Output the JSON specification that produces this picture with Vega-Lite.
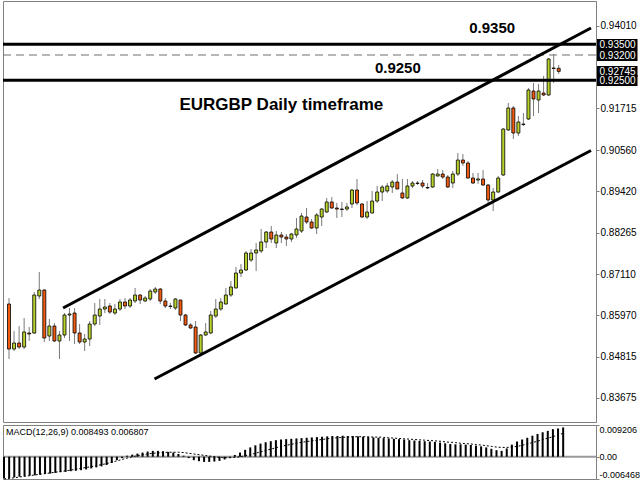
{
  "$schema": "https://vega.github.io/schema/vega-lite/v6.json",
  "background": "white",
  "padding": {"left": 1, "top": 0, "right": 0, "bottom": 2},
  "config": {"view": {"stroke": "#808080"}, "font": "Liberation Sans"},
  "spacing": 1,
  "datasets": {
    "candles": [
      {"i":0,"o":0.86283,"h":0.86450,"l":0.84756,"c":0.85033},
      {"i":1,"o":0.85033,"h":0.85533,"l":0.84978,"c":0.85200},
      {"i":2,"o":0.85200,"h":0.85672,"l":0.85033,"c":0.85089},
      {"i":3,"o":0.85089,"h":0.85894,"l":0.85033,"c":0.85506},
      {"i":4,"o":0.85478,"h":0.85644,"l":0.85256,"c":0.85450},
      {"i":5,"o":0.85478,"h":0.86617,"l":0.85450,"c":0.86533},
      {"i":6,"o":0.86506,"h":0.87172,"l":0.86422,"c":0.86672},
      {"i":7,"o":0.86672,"h":0.86700,"l":0.85228,"c":0.85339},
      {"i":8,"o":0.85394,"h":0.85867,"l":0.85256,"c":0.85672},
      {"i":9,"o":0.85672,"h":0.85756,"l":0.85228,"c":0.85256},
      {"i":10,"o":0.85256,"h":0.85533,"l":0.84756,"c":0.85422},
      {"i":11,"o":0.85422,"h":0.86033,"l":0.85339,"c":0.85978},
      {"i":12,"o":0.85978,"h":0.86172,"l":0.85256,"c":0.86006},
      {"i":13,"o":0.86033,"h":0.86172,"l":0.85172,"c":0.85478},
      {"i":14,"o":0.85478,"h":0.85728,"l":0.85172,"c":0.85228},
      {"i":15,"o":0.85228,"h":0.85450,"l":0.84978,"c":0.85311},
      {"i":16,"o":0.85311,"h":0.85811,"l":0.85117,"c":0.85728},
      {"i":17,"o":0.85728,"h":0.86311,"l":0.85672,"c":0.85978},
      {"i":18,"o":0.85950,"h":0.86422,"l":0.85700,"c":0.86144},
      {"i":19,"o":0.86144,"h":0.86422,"l":0.86033,"c":0.86200},
      {"i":20,"o":0.86228,"h":0.86311,"l":0.86006,"c":0.86061},
      {"i":21,"o":0.86033,"h":0.86283,"l":0.85978,"c":0.86144},
      {"i":22,"o":0.86144,"h":0.86422,"l":0.86089,"c":0.86339},
      {"i":23,"o":0.86339,"h":0.86450,"l":0.86144,"c":0.86228},
      {"i":24,"o":0.86228,"h":0.86450,"l":0.86172,"c":0.86394},
      {"i":25,"o":0.86367,"h":0.86728,"l":0.86311,"c":0.86533},
      {"i":26,"o":0.86533,"h":0.86561,"l":0.86283,"c":0.86394},
      {"i":27,"o":0.86367,"h":0.86506,"l":0.86339,"c":0.86450},
      {"i":28,"o":0.86422,"h":0.86700,"l":0.86367,"c":0.86644},
      {"i":29,"o":0.86617,"h":0.86756,"l":0.86561,"c":0.86700},
      {"i":30,"o":0.86700,"h":0.86728,"l":0.86283,"c":0.86367},
      {"i":31,"o":0.86367,"h":0.86450,"l":0.86172,"c":0.86228},
      {"i":32,"o":0.86228,"h":0.86311,"l":0.86144,"c":0.86214},
      {"i":33,"o":0.86172,"h":0.86450,"l":0.86117,"c":0.86422},
      {"i":34,"o":0.86394,"h":0.86400,"l":0.85811,"c":0.85978},
      {"i":35,"o":0.85978,"h":0.86006,"l":0.85672,"c":0.85700},
      {"i":36,"o":0.85700,"h":0.85756,"l":0.85589,"c":0.85617},
      {"i":37,"o":0.85644,"h":0.85811,"l":0.84894,"c":0.84922},
      {"i":38,"o":0.84922,"h":0.85450,"l":0.84867,"c":0.85422},
      {"i":39,"o":0.85422,"h":0.85756,"l":0.85394,"c":0.85506},
      {"i":40,"o":0.85478,"h":0.86089,"l":0.85450,"c":0.85978},
      {"i":41,"o":0.85950,"h":0.86422,"l":0.85894,"c":0.86144},
      {"i":42,"o":0.86144,"h":0.86450,"l":0.86089,"c":0.86339},
      {"i":43,"o":0.86283,"h":0.86728,"l":0.86270,"c":0.86533},
      {"i":44,"o":0.86533,"h":0.86922,"l":0.86478,"c":0.86756},
      {"i":45,"o":0.86728,"h":0.87311,"l":0.86720,"c":0.87144},
      {"i":46,"o":0.87144,"h":0.87394,"l":0.87033,"c":0.87228},
      {"i":47,"o":0.87228,"h":0.87756,"l":0.87200,"c":0.87700},
      {"i":48,"o":0.87506,"h":0.87811,"l":0.87450,"c":0.87700},
      {"i":49,"o":0.87700,"h":0.87978,"l":0.87200,"c":0.87783},
      {"i":50,"o":0.87756,"h":0.88367,"l":0.87700,"c":0.88006},
      {"i":51,"o":0.88006,"h":0.88311,"l":0.87839,"c":0.88283},
      {"i":52,"o":0.88283,"h":0.88450,"l":0.87978,"c":0.88089},
      {"i":53,"o":0.87978,"h":0.88311,"l":0.87839,"c":0.88200},
      {"i":54,"o":0.88200,"h":0.88283,"l":0.87978,"c":0.88144},
      {"i":55,"o":0.88144,"h":0.88228,"l":0.87894,"c":0.88089},
      {"i":56,"o":0.88089,"h":0.88256,"l":0.88006,"c":0.88228},
      {"i":57,"o":0.88200,"h":0.88672,"l":0.88117,"c":0.88367},
      {"i":58,"o":0.88311,"h":0.88811,"l":0.88256,"c":0.88728},
      {"i":59,"o":0.88700,"h":0.88950,"l":0.88506,"c":0.88561},
      {"i":60,"o":0.88561,"h":0.88644,"l":0.88367,"c":0.88394},
      {"i":61,"o":0.88394,"h":0.88811,"l":0.88228,"c":0.88756},
      {"i":62,"o":0.88700,"h":0.88950,"l":0.88450,"c":0.88922},
      {"i":63,"o":0.88839,"h":0.89228,"l":0.88811,"c":0.89117},
      {"i":64,"o":0.89117,"h":0.89256,"l":0.88922,"c":0.88950},
      {"i":65,"o":0.88950,"h":0.89089,"l":0.88672,"c":0.88922},
      {"i":66,"o":0.88922,"h":0.89117,"l":0.88700,"c":0.88908},
      {"i":67,"o":0.88922,"h":0.89089,"l":0.88867,"c":0.88978},
      {"i":68,"o":0.89061,"h":0.89478,"l":0.88950,"c":0.89450},
      {"i":69,"o":0.89450,"h":0.89756,"l":0.89033,"c":0.89089},
      {"i":70,"o":0.89061,"h":0.89089,"l":0.88672,"c":0.88700},
      {"i":71,"o":0.88700,"h":0.89144,"l":0.88644,"c":0.88839},
      {"i":72,"o":0.88811,"h":0.89422,"l":0.88800,"c":0.89144},
      {"i":73,"o":0.89144,"h":0.89561,"l":0.89089,"c":0.89394},
      {"i":74,"o":0.89394,"h":0.89589,"l":0.89144,"c":0.89533},
      {"i":75,"o":0.89422,"h":0.89644,"l":0.89367,"c":0.89561},
      {"i":76,"o":0.89533,"h":0.89728,"l":0.89367,"c":0.89672},
      {"i":77,"o":0.89672,"h":0.89894,"l":0.89470,"c":0.89478},
      {"i":78,"o":0.89367,"h":0.89756,"l":0.89200,"c":0.89228},
      {"i":79,"o":0.89228,"h":0.89756,"l":0.89200,"c":0.89561},
      {"i":80,"o":0.89561,"h":0.89700,"l":0.89506,"c":0.89644},
      {"i":81,"o":0.89644,"h":0.89700,"l":0.89589,"c":0.89631},
      {"i":82,"o":0.89644,"h":0.89728,"l":0.89506,"c":0.89561},
      {"i":83,"o":0.89506,"h":0.89644,"l":0.89478,"c":0.89519},
      {"i":84,"o":0.89533,"h":0.89922,"l":0.89506,"c":0.89894},
      {"i":85,"o":0.89839,"h":0.90033,"l":0.89830,"c":0.89894},
      {"i":86,"o":0.89894,"h":0.90006,"l":0.89756,"c":0.89811},
      {"i":87,"o":0.89811,"h":0.89867,"l":0.89506,"c":0.89533},
      {"i":88,"o":0.89644,"h":0.89978,"l":0.89506,"c":0.89894},
      {"i":89,"o":0.89894,"h":0.90478,"l":0.89839,"c":0.90283},
      {"i":90,"o":0.90283,"h":0.90450,"l":0.90117,"c":0.90200},
      {"i":91,"o":0.90200,"h":0.90256,"l":0.89770,"c":0.89783},
      {"i":92,"o":0.89783,"h":0.89922,"l":0.89617,"c":0.89644},
      {"i":93,"o":0.89728,"h":0.89922,"l":0.89617,"c":0.89756},
      {"i":94,"o":0.89756,"h":0.90006,"l":0.89561,"c":0.89589},
      {"i":95,"o":0.89589,"h":0.89617,"l":0.89089,"c":0.89172},
      {"i":96,"o":0.89172,"h":0.89506,"l":0.88867,"c":0.89394},
      {"i":97,"o":0.89394,"h":0.89839,"l":0.89367,"c":0.89783},
      {"i":98,"o":0.89867,"h":0.91172,"l":0.89839,"c":0.91144},
      {"i":99,"o":0.91117,"h":0.91867,"l":0.91089,"c":0.91728},
      {"i":100,"o":0.91728,"h":0.91783,"l":0.90867,"c":0.91033},
      {"i":101,"o":0.91033,"h":0.91506,"l":0.90950,"c":0.91339},
      {"i":102,"o":0.91283,"h":0.91589,"l":0.91228,"c":0.91269},
      {"i":103,"o":0.91422,"h":0.92283,"l":0.91394,"c":0.92228},
      {"i":104,"o":0.92200,"h":0.92422,"l":0.91506,"c":0.91978},
      {"i":105,"o":0.91950,"h":0.92394,"l":0.91589,"c":0.92200},
      {"i":106,"o":0.92144,"h":0.92617,"l":0.92061,"c":0.92089},
      {"i":107,"o":0.92089,"h":0.93117,"l":0.92061,"c":0.93089},
      {"i":108,"o":0.92839,"h":0.93228,"l":0.92422,"c":0.92825},
      {"i":109,"o":0.92830,"h":0.92922,"l":0.92672,"c":0.92745}
    ],
    "macd": [
      {"i":0,"hist":-0.0062,"sig":-0.0064},{"i":1,"hist":-0.0062,"sig":-0.0063},{"i":2,"hist":-0.0060,"sig":-0.0061},{"i":3,"hist":-0.0058,"sig":-0.0059},
      {"i":4,"hist":-0.0057,"sig":-0.0057},{"i":5,"hist":-0.0055,"sig":-0.0055},{"i":6,"hist":-0.0054,"sig":-0.0053},{"i":7,"hist":-0.0052,"sig":-0.0051},
      {"i":8,"hist":-0.0050,"sig":-0.0049},{"i":9,"hist":-0.0049,"sig":-0.0047},{"i":10,"hist":-0.0047,"sig":-0.0045},{"i":11,"hist":-0.0045,"sig":-0.0043},
      {"i":12,"hist":-0.0044,"sig":-0.0041},{"i":13,"hist":-0.0042,"sig":-0.0039},{"i":14,"hist":-0.0041,"sig":-0.0036},{"i":15,"hist":-0.0039,"sig":-0.0034},
      {"i":16,"hist":-0.0037,"sig":-0.0031},{"i":17,"hist":-0.0034,"sig":-0.0029},{"i":18,"hist":-0.0031,"sig":-0.0026},{"i":19,"hist":-0.0028,"sig":-0.0023},
      {"i":20,"hist":-0.0024,"sig":-0.0020},{"i":21,"hist":-0.0018,"sig":-0.0016},{"i":22,"hist":-0.0010,"sig":-0.0012},{"i":23,"hist":-0.0004,"sig":-0.0008},
      {"i":24,"hist":0.0003,"sig":-0.0004},{"i":25,"hist":0.0006,"sig":0.0000},{"i":26,"hist":0.0009,"sig":0.0003},{"i":27,"hist":0.0012,"sig":0.0006},
      {"i":28,"hist":0.0015,"sig":0.0008},{"i":29,"hist":0.0017,"sig":0.0010},{"i":30,"hist":0.0017,"sig":0.0011},{"i":31,"hist":0.0016,"sig":0.0012},
      {"i":32,"hist":0.0014,"sig":0.0013},{"i":33,"hist":0.0012,"sig":0.0013},{"i":34,"hist":0.0008,"sig":0.0013},{"i":35,"hist":0.0003,"sig":0.0012},
      {"i":36,"hist":-0.0004,"sig":0.0010},{"i":37,"hist":-0.0010,"sig":0.0008},{"i":38,"hist":-0.0013,"sig":0.0006},{"i":39,"hist":-0.0015,"sig":0.0004},
      {"i":40,"hist":-0.0015,"sig":0.0002},{"i":41,"hist":-0.0014,"sig":0.0000},{"i":42,"hist":-0.0012,"sig":-0.0002},{"i":43,"hist":-0.0008,"sig":-0.0003},
      {"i":44,"hist":-0.0003,"sig":-0.0003},{"i":45,"hist":0.0005,"sig":-0.0002},{"i":46,"hist":0.0012,"sig":0.0000},{"i":47,"hist":0.0020,"sig":0.0003},
      {"i":48,"hist":0.0027,"sig":0.0006},{"i":49,"hist":0.0033,"sig":0.0010},{"i":50,"hist":0.0038,"sig":0.0014},{"i":51,"hist":0.0042,"sig":0.0018},
      {"i":52,"hist":0.0045,"sig":0.0022},{"i":53,"hist":0.0048,"sig":0.0026},{"i":54,"hist":0.0050,"sig":0.0030},{"i":55,"hist":0.0051,"sig":0.0033},
      {"i":56,"hist":0.0052,"sig":0.0036},{"i":57,"hist":0.0053,"sig":0.0039},{"i":58,"hist":0.0054,"sig":0.0042},{"i":59,"hist":0.0055,"sig":0.0044},
      {"i":60,"hist":0.0056,"sig":0.0046},{"i":61,"hist":0.0057,"sig":0.0048},{"i":62,"hist":0.0058,"sig":0.0050},{"i":63,"hist":0.0059,"sig":0.0052},
      {"i":64,"hist":0.0060,"sig":0.0054},{"i":65,"hist":0.0060,"sig":0.0055},{"i":66,"hist":0.0061,"sig":0.0056},{"i":67,"hist":0.0060,"sig":0.0057},
      {"i":68,"hist":0.0060,"sig":0.0058},{"i":69,"hist":0.0059,"sig":0.0058},{"i":70,"hist":0.0058,"sig":0.0058},{"i":71,"hist":0.0057,"sig":0.0058},
      {"i":72,"hist":0.0056,"sig":0.0057},{"i":73,"hist":0.0055,"sig":0.0057},{"i":74,"hist":0.0054,"sig":0.0056},{"i":75,"hist":0.0053,"sig":0.0055},
      {"i":76,"hist":0.0052,"sig":0.0054},{"i":77,"hist":0.0051,"sig":0.0053},{"i":78,"hist":0.0050,"sig":0.0052},{"i":79,"hist":0.0048,"sig":0.0051},
      {"i":80,"hist":0.0047,"sig":0.0050},{"i":81,"hist":0.0046,"sig":0.0049},{"i":82,"hist":0.0045,"sig":0.0048},{"i":83,"hist":0.0044,"sig":0.0047},
      {"i":84,"hist":0.0043,"sig":0.0046},{"i":85,"hist":0.0041,"sig":0.0045},{"i":86,"hist":0.0039,"sig":0.0043},{"i":87,"hist":0.0037,"sig":0.0042},
      {"i":88,"hist":0.0036,"sig":0.0041},{"i":89,"hist":0.0036,"sig":0.0039},{"i":90,"hist":0.0035,"sig":0.0038},{"i":91,"hist":0.0034,"sig":0.0037},
      {"i":92,"hist":0.0032,"sig":0.0035},{"i":93,"hist":0.0030,"sig":0.0034},{"i":94,"hist":0.0027,"sig":0.0032},{"i":95,"hist":0.0023,"sig":0.0030},
      {"i":96,"hist":0.0019,"sig":0.0028},{"i":97,"hist":0.0017,"sig":0.0027},{"i":98,"hist":0.0024,"sig":0.0027},{"i":99,"hist":0.0035,"sig":0.0028},
      {"i":100,"hist":0.0044,"sig":0.0030},{"i":101,"hist":0.0050,"sig":0.0033},{"i":102,"hist":0.0055,"sig":0.0037},{"i":103,"hist":0.0061,"sig":0.0041},
      {"i":104,"hist":0.0066,"sig":0.0045},{"i":105,"hist":0.0071,"sig":0.0050},{"i":106,"hist":0.0075,"sig":0.0054},{"i":107,"hist":0.0080,"sig":0.0058},
      {"i":108,"hist":0.0082,"sig":0.0063},{"i":109,"hist":0.0085,"sig":0.0068}
    ]
  },
  "vconcat": [
    {
      "width": 593,
      "height": 421,
      "layer": [
        {
          "data": {"values": [{"p": 0.932}]},
          "mark": {"type": "rule", "color": "#6e6e6e", "strokeWidth": 1, "strokeDash": [8, 5]},
          "encoding": {
            "y": {
              "field": "p", "type": "quantitative",
              "scale": {"domain": [0.83006, 0.947], "nice": false, "zero": false},
              "axis": {
                "orient": "right",
                "values": [0.9401, 0.935, 0.932, 0.92745, 0.925, 0.91715, 0.9056, 0.8942, 0.88265, 0.8711, 0.8597, 0.84815, 0.83675],
                "tickCount": 100,
                "labelExpr": "format(datum.value, '.5f')",
                "title": null,
                "grid": false,
                "domainColor": "#808080",
                "labelFont": "Liberation Sans",
                "labelFontSize": 10,
                "labelOverlap": false,
                "labelBound": false,
                "labelFlush": false,
                "tickWidth": {"condition": {"test": "datum.value > 0.924 && datum.value < 0.936", "value": 11}, "value": 1},
                "tickSize": {"condition": {"test": "datum.value > 0.924 && datum.value < 0.936", "value": 41}, "value": 3},
                "tickColor": {"condition": {"test": "datum.value > 0.924 && datum.value < 0.936", "value": "black"}, "value": "#808080"},
                "labelColor": {"condition": {"test": "datum.value > 0.924 && datum.value < 0.936", "value": "white"}, "value": "black"},
                "labelPadding": {"condition": {"test": "datum.value > 0.924 && datum.value < 0.936", "value": -38}, "value": 1}
              }
            }
          }
        },
        {
          "data": {"name": "candles"},
          "mark": {"type": "rule", "color": "#7a7a7a", "strokeWidth": 1},
          "encoding": {
            "x": {"field": "i", "type": "quantitative", "scale": {"domain": [-0.2, 115.4], "nice": false, "zero": false}, "axis": null},
            "y": {"field": "l", "type": "quantitative"},
            "y2": {"field": "h"}
          }
        },
        {
          "data": {"name": "candles"},
          "mark": {"type": "bar", "width": 3, "stroke": "black", "strokeWidth": 0.8},
          "encoding": {
            "x": {"field": "i", "type": "quantitative"},
            "y": {"field": "o", "type": "quantitative"},
            "y2": {"field": "c"},
            "fill": {"condition": {"test": "datum.c >= datum.o", "value": "#b9d12a"}, "value": "#f25a0f"}
          }
        },
        {
          "data": {"values": [{"p": 0.935}, {"p": 0.925}]},
          "mark": {"type": "rule", "color": "black", "strokeWidth": 3},
          "encoding": {"y": {"field": "p", "type": "quantitative"}}
        },
        {
          "data": {"values": [
            {"line": "upper", "i": 10.72, "p": 0.86172},
            {"line": "upper", "i": 115.4, "p": 0.9395},
            {"line": "lower", "i": 28.85, "p": 0.84200},
            {"line": "lower", "i": 115.4, "p": 0.90547}
          ]},
          "mark": {"type": "line", "color": "black", "strokeWidth": 3, "clip": true},
          "encoding": {
            "x": {"field": "i", "type": "quantitative"},
            "y": {"field": "p", "type": "quantitative"},
            "detail": {"field": "line"}
          }
        },
        {
          "data": {"values": [
            {"i": 95.8, "p": 0.9395, "text": "0.9350"},
            {"i": 77.1, "p": 0.92839, "text": "0.9250"}
          ]},
          "mark": {"type": "text", "font": "Liberation Sans", "fontWeight": "bold", "fontSize": 15, "color": "black", "baseline": "middle", "align": "center"},
          "encoding": {
            "x": {"field": "i", "type": "quantitative"},
            "y": {"field": "p", "type": "quantitative"},
            "text": {"field": "text"}
          }
        },
        {
          "data": {"values": [{"i": 54.0, "p": 0.91811, "text": "EURGBP Daily timeframe"}]},
          "mark": {"type": "text", "font": "Liberation Sans", "fontWeight": "bold", "fontSize": 17, "color": "black", "baseline": "middle", "align": "center"},
          "encoding": {
            "x": {"field": "i", "type": "quantitative"},
            "y": {"field": "p", "type": "quantitative"},
            "text": {"field": "text"}
          }
        }
      ]
    },
    {
      "width": 593,
      "height": 54,
      "layer": [
        {
          "data": {"values": [{"z": 0}]},
          "mark": {"type": "rule", "color": "#9a9a9a", "strokeWidth": 2},
          "encoding": {
            "y": {
              "field": "z", "type": "quantitative",
              "scale": {"domain": [-0.006468, 0.009206], "nice": false, "zero": false},
              "axis": {
                "orient": "right",
                "values": [0.009206, 0, -0.006468],
                "tickCount": 20,
                "labelExpr": "datum.value > 0.001 ? '0.009206' : (datum.value < -0.001 ? '-0.006468' : '0.00')",
                "title": null,
                "grid": false,
                "domainColor": "#808080",
                "tickColor": "#808080",
                "tickSize": 3,
                "labelPadding": 0,
                "labelFont": "Liberation Sans",
                "labelFontSize": 9,
                "labelColor": "black",
                "labelOverlap": false,
                "labelBound": false,
                "labelFlush": false,
                "labelBaseline": {"condition": {"test": "datum.value > 0.001", "value": "top"}, "value": "bottom"},
                "labelOffset": {"condition": {"test": "abs(datum.value) < 0.001", "value": 5}, "value": 0}
              }
            }
          }
        },
        {
          "data": {"name": "macd"},
          "mark": {"type": "rule", "color": "black", "strokeWidth": 2},
          "encoding": {
            "x": {"field": "i", "type": "quantitative", "scale": {"domain": [-0.2, 115.4], "nice": false, "zero": false}, "axis": null},
            "y": {"field": "hist", "type": "quantitative"},
            "y2": {"datum": 0}
          }
        },
        {
          "data": {"name": "macd"},
          "mark": {"type": "line", "color": "black", "strokeWidth": 1, "strokeDash": [2, 2]},
          "encoding": {
            "x": {"field": "i", "type": "quantitative"},
            "y": {"field": "sig", "type": "quantitative"}
          }
        },
        {
          "data": {"values": [{"i": 0.38, "v": 0.00717, "text": "MACD(12,26,9) 0.008493 0.006807"}]},
          "mark": {"type": "text", "font": "Liberation Sans", "fontSize": 9, "color": "black", "align": "left", "baseline": "middle"},
          "encoding": {
            "x": {"field": "i", "type": "quantitative"},
            "y": {"field": "v", "type": "quantitative"},
            "text": {"field": "text"}
          }
        }
      ]
    }
  ]
}
